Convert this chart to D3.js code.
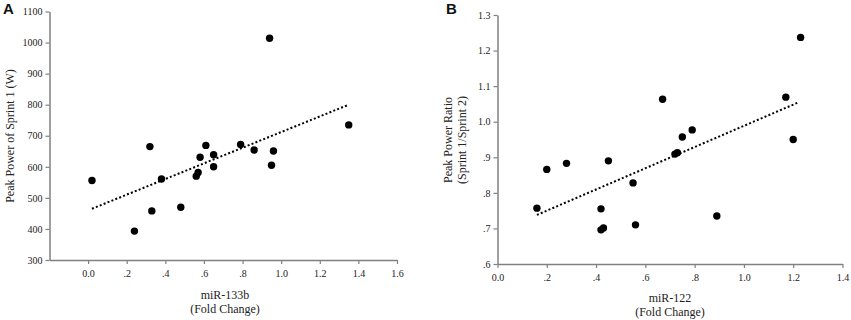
<!DOCTYPE html>
<html>
<head>
<meta charset="utf-8">
<script src="https://cdn.jsdelivr.net/npm/d3@7"></script>
<style>
  body { margin: 0; background: #fff; }
  svg { display: block; }
  .tick text { font-family: "Liberation Serif", "Times New Roman", serif; font-size: 10px; fill: #222; }
  .title { font-family: "Liberation Serif", "Times New Roman", serif; font-size: 12px; fill: #222; }
  .panel { font-family: "Liberation Sans", Arial, sans-serif; font-size: 15px; font-weight: bold; fill: #111; }
</style>
</head>
<body>
<svg id="chart" width="851" height="320"></svg>
<script>
// Panel A: miR-133b vs peak power of sprint 1
const aX = [0.02, 0.24, 0.32, 0.33, 0.38, 0.48, 0.56, 0.57, 0.58, 0.61, 0.65, 0.65, 0.79, 0.86, 0.94, 0.95, 0.96, 1.35];
const aY = [556, 393, 665, 458, 561, 470, 570, 582, 631, 669, 639, 600, 672, 654, 1014, 605, 651, 735];
const aTrendX = [0.02, 1.35];
const aTrendY = [465, 800];
const aXTicks = [0, 0.2, 0.4, 0.6, 0.8, 1.0, 1.2, 1.4, 1.6];
const aYTicks = [300, 400, 500, 600, 700, 800, 900, 1000, 1100];

// Panel B: miR-122 vs peak power ratio
const bX = [0.16, 0.20, 0.28, 0.42, 0.43, 0.42, 0.45, 0.55, 0.56, 0.67, 0.72, 0.73, 0.75, 0.79, 0.89, 1.17, 1.20, 1.23];
const bY = [0.757, 0.866, 0.883, 0.696, 0.701, 0.755, 0.890, 0.828, 0.710, 1.063, 0.909, 0.913, 0.957, 0.977, 0.735, 1.069, 0.950, 1.237];
const bTrendX = [0.16, 1.22];
const bTrendY = [0.738, 1.054];
const bXTicks = [0, 0.2, 0.4, 0.6, 0.8, 1.0, 1.2, 1.4];
const bYTicks = [0.6, 0.7, 0.8, 0.9, 1.0, 1.1, 1.2, 1.3];

const fmt = v => {
  if (Math.abs(v) < 1e-9) return "0.0";
  const s = d3.format(".1f")(v);
  return v < 1 ? s.replace(/^0/, "") : s;
};
const fmtInt = d3.format("d");

const svg = d3.select("#chart");

function panel(cfg) {
  const x = d3.scaleLinear().domain(cfg.xDomain).range([cfg.left, cfg.right]);
  const y = d3.scaleLinear().domain(cfg.yDomain).range([cfg.bottom, cfg.top]);
  const g = svg.append("g");

  const xa = g.append("g").attr("transform", `translate(0,${cfg.bottom})`)
    .call(d3.axisBottom(x).tickValues(cfg.xTicks).tickFormat(fmt).tickSize(4).tickPadding(6).tickSizeOuter(0));
  const ya = g.append("g").attr("transform", `translate(${cfg.left},0)`)
    .call(d3.axisLeft(y).tickValues(cfg.yTicks).tickFormat(cfg.yFmt).tickSize(4).tickPadding(3).tickSizeOuter(0));
  [xa, ya].forEach(a => {
    a.select(".domain").attr("stroke", "#808080").attr("stroke-width", 1.5);
    a.selectAll(".tick line").attr("stroke", "#808080").attr("stroke-width", 1.2);
  });

  // trend line
  const tl = cfg.trendX.map((v, i) => [v, cfg.trendY[i]]);
  g.append("path")
    .attr("d", d3.line().x(d => x(d[0])).y(d => y(d[1]))(tl))
    .attr("stroke", "#000").attr("stroke-width", 2)
    .attr("stroke-dasharray", "2,2.2").attr("fill", "none");

  // points
  g.selectAll("circle.pt").data(cfg.xs.map((v, i) => [v, cfg.ys[i]])).join("circle")
    .attr("class", "pt")
    .attr("cx", d => x(d[0])).attr("cy", d => y(d[1])).attr("r", 3.7)
    .attr("fill", "#000");

  // x title
  cfg.xTitle.forEach((t, i) => {
    g.append("text").attr("class", "title").attr("text-anchor", "middle")
      .attr("x", cfg.xTitleX).attr("y", cfg.xTitleY + i * 13.5).text(t);
  });
  // y title
  cfg.yTitle.forEach((t, i) => {
    g.append("text").attr("class", "title").attr("text-anchor", "middle")
      .attr("transform", `translate(${cfg.yTitleX + i * 14},${cfg.yTitleY}) rotate(-90)`).text(t);
  });
  g.append("text").attr("class", "panel").attr("x", cfg.labelX).attr("y", 14).text(cfg.label);
}

panel({
  xs: aX, ys: aY, trendX: aTrendX, trendY: aTrendY,
  xDomain: [-0.2, 1.6], yDomain: [300, 1100],
  xTicks: aXTicks, yTicks: aYTicks, yFmt: fmtInt,
  left: 49.5, right: 397, top: 11.5, bottom: 260,
  xTitle: ["miR-133b", "(Fold Change)"], xTitleX: 225, xTitleY: 299,
  yTitle: ["Peak Power of Sprint 1 (W)"], yTitleX: 14, yTitleY: 136,
  label: "A", labelX: 3
});

panel({
  xs: bX, ys: bY, trendX: bTrendX, trendY: bTrendY,
  xDomain: [0, 1.4], yDomain: [0.6, 1.3],
  xTicks: bXTicks, yTicks: bYTicks, yFmt: fmt,
  left: 497.5, right: 842.5, top: 15, bottom: 264,
  xTitle: ["miR-122", "(Fold Change)"], xTitleX: 670, xTitleY: 302,
  yTitle: ["Peak Power Ratio", "(Sprint 1/Sprint 2)"], yTitleX: 452, yTitleY: 140,
  label: "B", labelX: 446
});
</script>
</body>
</html>
